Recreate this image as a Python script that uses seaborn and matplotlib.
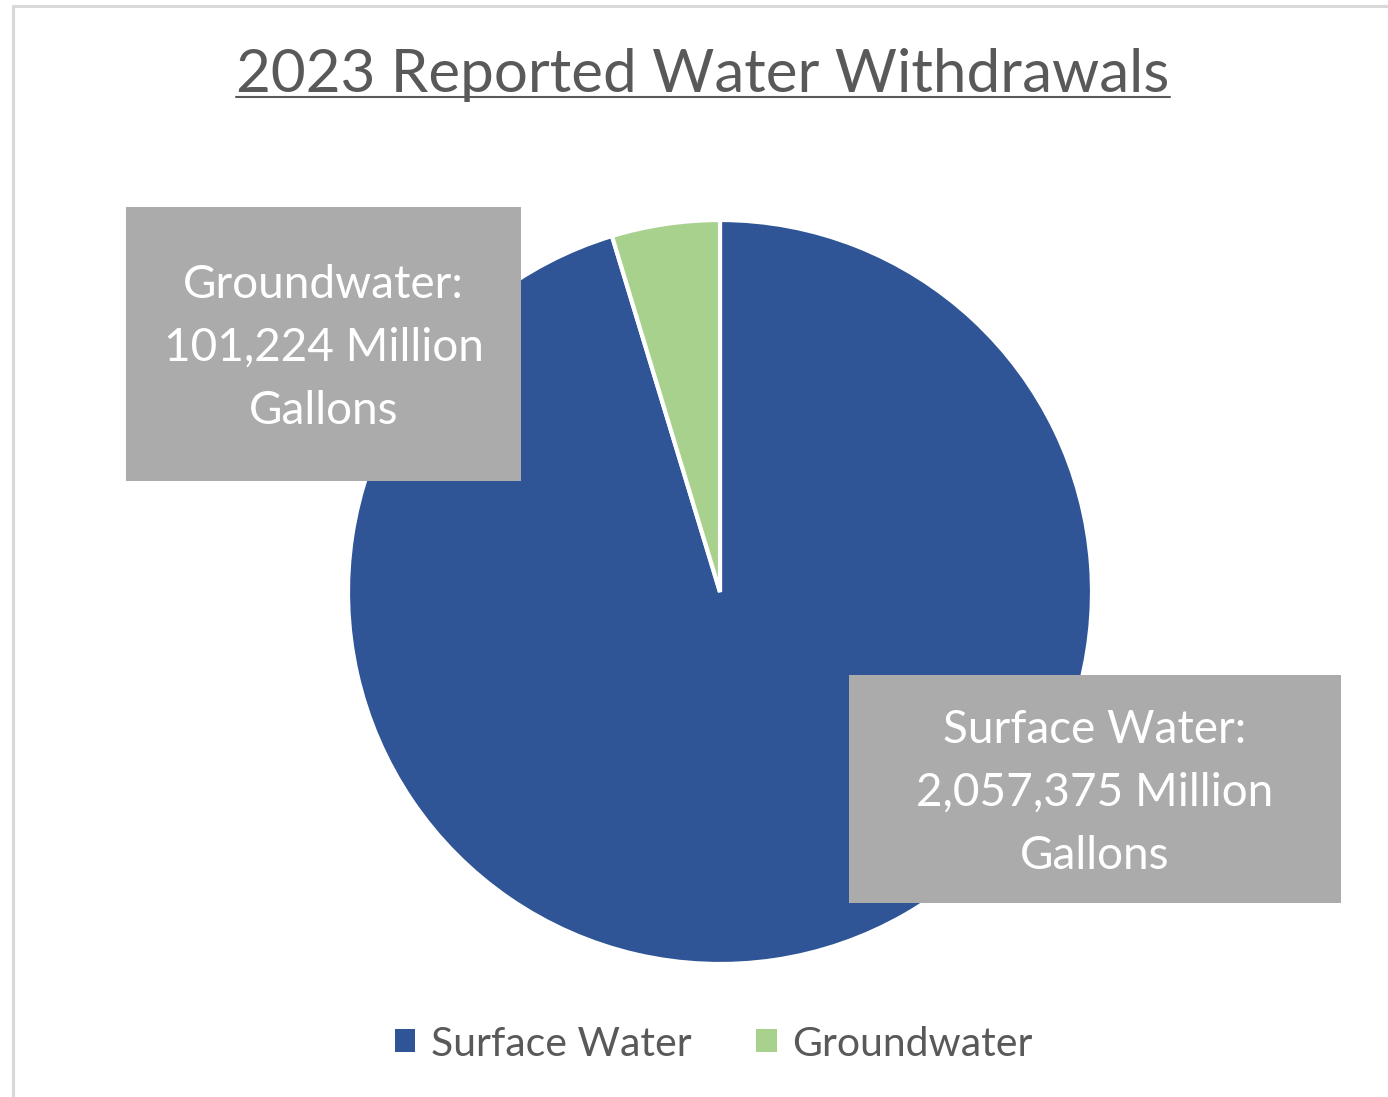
import matplotlib
matplotlib.use("Agg")
import matplotlib.pyplot as plt
import seaborn as sns
from matplotlib.patches import Rectangle
from matplotlib.lines import Line2D

categories = ["Surface Water", "Groundwater"]
values = [2057375, 101224]
colors = ["#2f5597", "#a9d18e"]
label_texts = ["Surface Water:\n2,057,375 Million\nGallons", "Groundwater:\n101,224 Million\nGallons"]
title = "2023 Reported Water Withdrawals"

sns.set_theme(style="white")
plt.rcParams["font.family"] = ["Lato", "DejaVu Sans"]

W, H = 1388, 1097
fig = plt.figure(figsize=(W / 100, H / 100), dpi=100)
fig.patch.set_facecolor("white")

def fx(x):
    return x / W

def fy(y):
    return 1 - y / H

# frame lines (top and left)
fig.add_artist(Line2D([fx(13), fx(1388)], [fy(6), fy(6)], color="#d9d9d9", lw=2.2, transform=fig.transFigure))
fig.add_artist(Line2D([fx(13), fx(13)], [fy(6), fy(1097)], color="#d9d9d9", lw=2.2, transform=fig.transFigure))

# pie axes
cx, cy, r = 720, 592, 372
ax = fig.add_axes([fx(cx - r), fy(cy + r), 2 * r / W, 2 * r / H])
ax.pie(values, colors=colors, startangle=90, counterclock=False, radius=1,
       wedgeprops=dict(edgecolor="white", linewidth=3))
ax.set_xlim(-1, 1)
ax.set_ylim(-1, 1)
ax.set_aspect("equal")
ax.axis("off")

# title with underline
t = fig.text(fx(703), fy(75), title, ha="center", va="center", fontsize=43.3, color="#595959")
fig.canvas.draw()
bb = t.get_window_extent()
fig.add_artist(Line2D([bb.x0 / W, bb.x1 / W], [fy(97), fy(97)], color="#595959", lw=1.5, transform=fig.transFigure))

# data label boxes
boxes = {
    "Surface Water": (849, 675, 1341, 903),
    "Groundwater": (126, 207, 521, 481),
}
for cat, txt in zip(categories, label_texts):
    x0, y0, x1, y1 = boxes[cat]
    fig.add_artist(Rectangle((fx(x0), fy(y1)), (x1 - x0) / W, (y1 - y0) / H,
                             facecolor="#ababab", edgecolor="none", transform=fig.transFigure, zorder=5))
    fig.text(fx((x0 + x1) / 2), fy((y0 + y1) / 2 + 4), txt, ha="center", va="center",
             fontsize=33, color="white", linespacing=1.62, zorder=6)

# legend
handles = [Rectangle((0, 0), 1, 1, facecolor=c, edgecolor="none") for c in colors]
fig.legend(handles, categories, loc="center", bbox_to_anchor=(fx(714), fy(1044)), ncol=2,
           frameon=False, fontsize=29.5, labelcolor="#595959", handlelength=0.49, handleheight=0.49,
           handletextpad=0.39, columnspacing=1.58)

fig.savefig("out.png", dpi=100, facecolor="white")
